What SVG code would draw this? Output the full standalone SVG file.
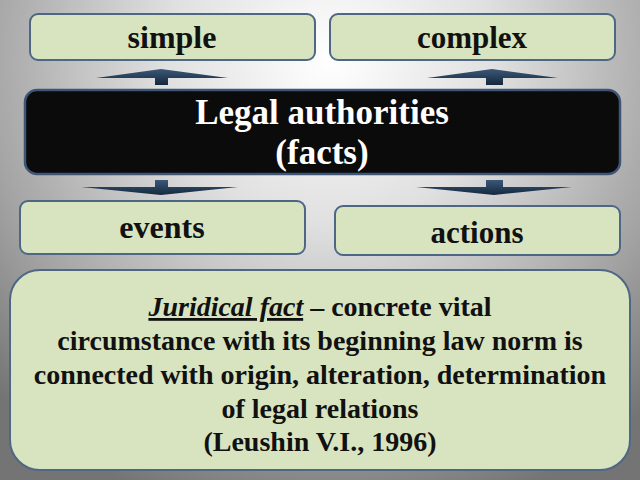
<svg xmlns="http://www.w3.org/2000/svg" width="640" height="480" viewBox="0 0 640 480">
<defs>
<radialGradient id="bg" cx="330" cy="60" r="470" gradientUnits="userSpaceOnUse">
<stop offset="0" stop-color="#ffffff"/>
<stop offset="0.35" stop-color="#e0e0e0"/>
<stop offset="0.75" stop-color="#a2a2a2"/>
<stop offset="1" stop-color="#747474"/>
</radialGradient>
<linearGradient id="arr" x1="0" y1="0" x2="0" y2="1">
<stop offset="0" stop-color="#3b5878"/>
<stop offset="1" stop-color="#15273d"/>
</linearGradient>
<style>
.box{fill:#d8e4bf;stroke:#4d6785;stroke-width:2}
.dark{fill:#0b0b0b;stroke:#3d5576;stroke-width:2.5}
.arrow{fill:url(#arr)}
</style>
</defs>
<rect width="640" height="480" fill="url(#bg)"/>
<g id="simple"><rect class="box" x="30" y="14" width="285" height="46" rx="8"/><text x="172" y="48" font-size="32" font-weight="bold" fill="#111" text-anchor="middle" font-family="Liberation Serif" style="font-family:'Liberation Serif',serif">simple</text></g>
<g id="complex"><rect class="box" x="330" y="14" width="285" height="46" rx="8"/><text x="472" y="48" font-size="31" font-weight="bold" fill="#111" text-anchor="middle" font-family="Liberation Serif" style="font-family:'Liberation Serif',serif">complex</text></g>
<g id="legal"><rect class="dark" x="25" y="90" width="595" height="84" rx="12"/><text x="322" y="124" font-size="35" font-weight="bold" fill="#fff" text-anchor="middle" font-family="Liberation Serif" style="font-family:'Liberation Serif',serif">Legal authorities</text><text x="322" y="164" font-size="35" font-weight="bold" fill="#fff" text-anchor="middle" font-family="Liberation Serif" style="font-family:'Liberation Serif',serif">(facts)</text></g>
<g id="events"><rect class="box" x="20" y="201" width="285" height="53" rx="8"/><text x="162" y="238" font-size="32" font-weight="bold" fill="#111" text-anchor="middle" font-family="Liberation Serif" style="font-family:'Liberation Serif',serif">events</text></g>
<g id="actions"><rect class="box" x="335" y="206" width="285" height="49" rx="8"/><text x="477" y="243" font-size="31" font-weight="bold" fill="#111" text-anchor="middle" font-family="Liberation Serif" style="font-family:'Liberation Serif',serif">actions</text></g>
<g id="definition"><rect class="box" x="10" y="270" width="620" height="200" rx="30"/>
<text font-size="28" font-weight="bold" fill="#111" text-anchor="middle" font-family="Liberation Serif" style="font-family:'Liberation Serif',serif"><tspan x="320" y="316"><tspan font-style="italic" text-decoration="underline">Juridical fact</tspan> – concrete vital</tspan><tspan x="320" y="350">circumstance with its beginning law norm is</tspan><tspan x="320" y="384">connected with origin, alteration, determination</tspan><tspan x="320" y="418">of legal relations</tspan><tspan x="320" y="451">(Leushin V.I., 1996)</tspan></text></g>
<g id="connectors">
<path class="arrow" d="M96 78 L161 69 L228 78 L168 78 L168 85 L155 85 L155 78 Z"/>
<path class="arrow" d="M427 78 L492 69 L558 78 L503 78 L503 85 L486 85 L486 78 Z"/>
<path class="arrow" d="M155 180 L168 180 L168 187 L238 187 L161 195 L81 187 L155 187 Z"/>
<path class="arrow" d="M486 180 L503 180 L503 187 L572 187 L494 195 L416 187 L486 187 Z"/>
</g>
</svg>
